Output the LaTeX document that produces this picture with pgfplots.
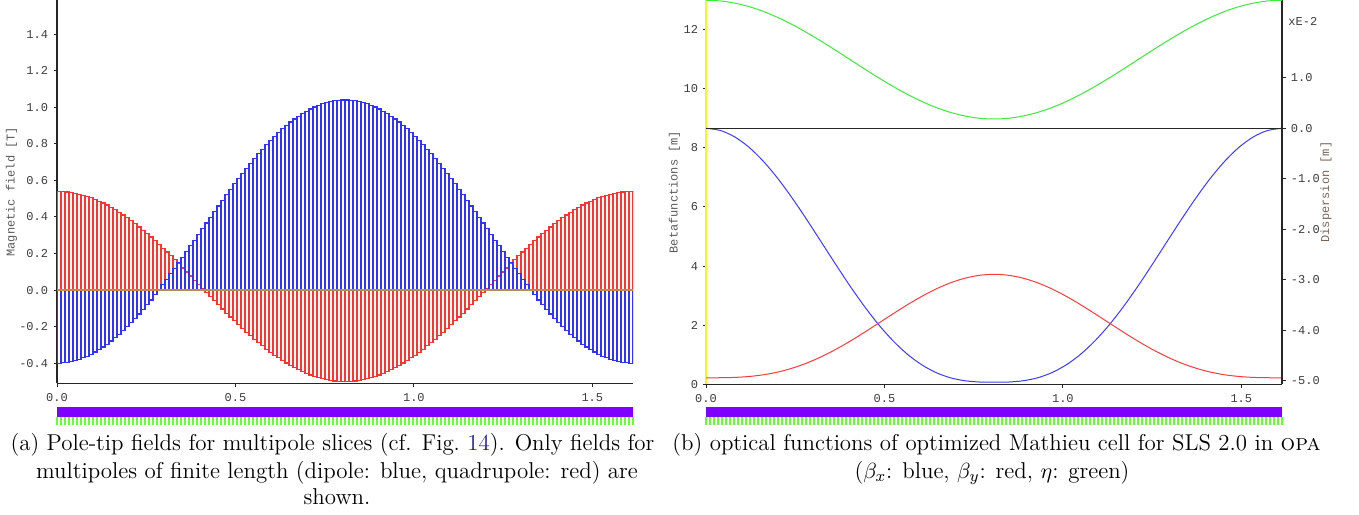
\documentclass[border=0pt]{standalone}
\usepackage{pgfplots}
\pgfplotsset{compat=1.18}
\usepackage{pgfplotstable}
\usepackage{fontspec}
\setmonofont{Liberation Mono}

\definecolor{barblue}{RGB}{50,50,255}
\definecolor{barred}{RGB}{255,50,50}
\definecolor{zeroline}{RGB}{185,140,80}
\definecolor{latpurple}{RGB}{127,0,255}
\definecolor{latgreen}{RGB}{100,255,50}
\definecolor{axisyellow}{RGB}{245,245,40}
\definecolor{labelgray}{RGB}{90,90,90}
\definecolor{ticktext}{RGB}{60,60,60}
\definecolor{disp}{RGB}{120,100,90}
\definecolor{linkblue}{RGB}{30,30,150}
\definecolor{curveblue}{RGB}{60,60,255}
\definecolor{curvered}{RGB}{255,60,60}
\definecolor{curvegreen}{RGB}{60,235,60}

% slice boundaries x, dipole field b, quadrupole field r
\pgfplotstableread{
x b r
0 -0.400 0.540
0.01121 -0.398 0.539
0.02242 -0.396 0.537
0.03363 -0.392 0.534
0.04483 -0.386 0.530
0.05604 -0.379 0.525
0.06725 -0.371 0.519
0.07846 -0.362 0.512
0.08967 -0.351 0.505
0.10088 -0.339 0.496
0.11208 -0.326 0.486
0.12329 -0.311 0.476
0.13450 -0.296 0.465
0.14571 -0.279 0.452
0.15692 -0.261 0.439
0.16813 -0.242 0.426
0.17933 -0.221 0.411
0.19054 -0.200 0.396
0.20175 -0.178 0.380
0.21296 -0.155 0.363
0.22417 -0.131 0.345
0.23538 -0.106 0.327
0.24658 -0.080 0.309
0.25779 -0.054 0.290
0.26900 -0.026 0.270
0.28021 0.002 0.250
0.29142 0.030 0.229
0.30263 0.059 0.208
0.31383 0.089 0.187
0.32504 0.119 0.166
0.33625 0.149 0.144
0.34746 0.180 0.121
0.35867 0.210 0.099
0.36988 0.242 0.077
0.38108 0.273 0.054
0.39229 0.304 0.031
0.40350 0.336 0.009
0.41471 0.367 -0.014
0.42592 0.398 -0.037
0.43713 0.430 -0.059
0.44833 0.460 -0.081
0.45954 0.491 -0.104
0.47075 0.521 -0.126
0.48196 0.551 -0.147
0.49317 0.581 -0.168
0.50438 0.610 -0.189
0.51558 0.638 -0.210
0.52679 0.666 -0.230
0.53800 0.694 -0.250
0.54921 0.720 -0.269
0.56042 0.746 -0.287
0.57163 0.771 -0.305
0.58283 0.795 -0.323
0.59404 0.818 -0.340
0.60525 0.840 -0.356
0.61646 0.861 -0.371
0.62767 0.882 -0.386
0.63888 0.901 -0.399
0.65008 0.919 -0.412
0.66129 0.936 -0.425
0.67250 0.951 -0.436
0.68371 0.966 -0.446
0.69492 0.979 -0.456
0.70613 0.991 -0.465
0.71733 1.002 -0.472
0.72854 1.011 -0.479
0.73975 1.019 -0.485
0.75096 1.026 -0.490
0.76217 1.032 -0.494
0.77338 1.036 -0.497
0.78458 1.038 -0.499
0.79579 1.040 -0.500
0.80700 1.040 -0.500
0.81821 1.038 -0.499
0.82942 1.036 -0.497
0.84063 1.032 -0.494
0.85183 1.026 -0.490
0.86304 1.019 -0.485
0.87425 1.011 -0.479
0.88546 1.002 -0.472
0.89667 0.991 -0.465
0.90788 0.979 -0.456
0.91908 0.966 -0.446
0.93029 0.951 -0.436
0.94150 0.936 -0.425
0.95271 0.919 -0.412
0.96392 0.901 -0.399
0.97513 0.882 -0.386
0.98633 0.861 -0.371
0.99754 0.840 -0.356
1.00875 0.818 -0.340
1.01996 0.795 -0.323
1.03117 0.771 -0.305
1.04238 0.746 -0.287
1.05358 0.720 -0.269
1.06479 0.694 -0.250
1.07600 0.666 -0.230
1.08721 0.638 -0.210
1.09842 0.610 -0.189
1.10963 0.581 -0.168
1.12083 0.551 -0.147
1.13204 0.521 -0.126
1.14325 0.491 -0.104
1.15446 0.460 -0.081
1.16567 0.430 -0.059
1.17688 0.398 -0.037
1.18808 0.367 -0.014
1.19929 0.336 0.009
1.21050 0.304 0.031
1.22171 0.273 0.054
1.23292 0.242 0.077
1.24413 0.210 0.099
1.25533 0.180 0.121
1.26654 0.149 0.144
1.27775 0.119 0.166
1.28896 0.089 0.187
1.30017 0.059 0.208
1.31138 0.030 0.229
1.32258 0.002 0.250
1.33379 -0.026 0.270
1.34500 -0.054 0.290
1.35621 -0.080 0.309
1.36742 -0.106 0.327
1.37863 -0.131 0.345
1.38983 -0.155 0.363
1.40104 -0.178 0.380
1.41225 -0.200 0.396
1.42346 -0.221 0.411
1.43467 -0.242 0.426
1.44588 -0.261 0.439
1.45708 -0.279 0.452
1.46829 -0.296 0.465
1.47950 -0.311 0.476
1.49071 -0.326 0.486
1.50192 -0.339 0.496
1.51313 -0.351 0.505
1.52433 -0.362 0.512
1.53554 -0.371 0.519
1.54675 -0.379 0.525
1.55796 -0.386 0.530
1.56917 -0.392 0.534
1.58038 -0.396 0.537
1.59158 -0.398 0.539
1.60279 -0.400 0.540
1.61400 -0.400 0.540
}\slices

% optics: s, beta_x, beta_y, eta (x 1e-2 m)
\pgfplotstableread{
s bx by eta
0.0000 8.660 0.220 2.530
0.0404 8.586 0.222 2.516
0.0807 8.367 0.233 2.472
0.1211 8.012 0.265 2.402
0.1614 7.534 0.323 2.306
0.2018 6.952 0.416 2.186
0.2421 6.288 0.548 2.046
0.2825 5.567 0.719 1.888
0.3228 4.816 0.931 1.718
0.3632 4.060 1.179 1.539
0.4035 3.325 1.457 1.355
0.4439 2.635 1.759 1.171
0.4842 2.010 2.073 0.992
0.5246 1.465 2.389 0.822
0.5649 1.011 2.696 0.664
0.6053 0.653 2.980 0.524
0.6456 0.391 3.231 0.404
0.6860 0.216 3.438 0.308
0.7263 0.118 3.592 0.238
0.7667 0.077 3.688 0.194
0.8070 0.070 3.720 0.180
0.8473 0.077 3.688 0.194
0.8877 0.118 3.592 0.238
0.9280 0.216 3.438 0.308
0.9684 0.391 3.231 0.404
1.0087 0.653 2.980 0.524
1.0491 1.011 2.696 0.664
1.0894 1.465 2.389 0.822
1.1298 2.010 2.073 0.992
1.1701 2.635 1.759 1.171
1.2105 3.325 1.457 1.355
1.2508 4.060 1.179 1.539
1.2912 4.816 0.931 1.718
1.3315 5.567 0.719 1.888
1.3719 6.288 0.548 2.046
1.4122 6.952 0.416 2.186
1.4526 7.534 0.323 2.306
1.4929 8.012 0.265 2.402
1.5333 8.367 0.233 2.472
1.5736 8.586 0.222 2.516
1.6140 8.660 0.220 2.530
}\optics

\pgfplotsset{
  myaxis/.style={
    scale only axis, width=288pt,
    tick align=outside, major tick length=1.75pt,
    tick style={draw=black!85, line width=0.5pt},
    axis line style={draw=black!85, line width=0.6pt},
    tick label style={font=\ttfamily\fontsize{6}{7}\selectfont, text=ticktext, inner sep=0pt},
    label style={font=\ttfamily\fontsize{6}{7}\selectfont, text=labelgray},
    xmin=0, xmax=1.614,
    xtick={0,0.5,1,1.5}, xticklabels={0.0,0.5,1.0,1.5},
    xticklabel style={anchor=north, yshift=-3.25pt},
    axis x line*=bottom, axis y line*=left,
  },
  lattice/.style={
    scale only axis, width=288pt, height=5pt,
    xmin=0, xmax=1.614, ymin=0, ymax=1,
    hide y axis, axis x line*=bottom,
    x axis line style={draw=none},
    xtick={0,0.0112083,...,1.615}, xticklabels={},
    xticklabel style={opacity=0, text opacity=0},
    tick align=outside, major tick length=4.15pt,
    xtick style={draw=latgreen, line width=0.6pt},
  },
}

\begin{document}
\begin{tikzpicture}
\useasboundingbox (0,0) rectangle (679.5pt,257pt);

% ---------------- left panel ----------------
\begin{axis}[myaxis, height=191.65pt, at={(28.5pt,65.35pt)}, anchor=south west,
  ymin=-0.51, ymax=1.587,
  ytick={-0.4,-0.2,0,0.2,0.4,0.6,0.8,1.0,1.2,1.4},
  yticklabels={-0.4,-0.2,0.0,0.2,0.4,0.6,0.8,1.0,1.2,1.4},
  yticklabel style={anchor=east, xshift=-2.5pt},
  ylabel={Magnetic field [T]},
  ylabel style={at={(axis description cs:-0.0790,0.5)}, anchor=center},
]
\addplot[ybar interval, draw=barred, fill=none, line width=0.6pt] table[x=x, y=r] {\slices};
\addplot[ybar interval, draw=barblue, fill=none, line width=0.6pt] table[x=x, y=b] {\slices};
\addplot[zeroline, line width=0.6pt] coordinates {(0,0) (1.614,0)};
\end{axis}

\begin{axis}[lattice, at={(28.5pt,48.65pt)}, anchor=south west]
\addplot[fill=latpurple, draw=none] coordinates {(0,0) (0,1) (1.614,1) (1.614,0)};
\end{axis}

% ---------------- right panel ----------------
\begin{axis}[myaxis, height=192.15pt, at={(353pt,64.85pt)}, anchor=south west,
  ymin=0, ymax=13.0,
  ytick={0,2,4,6,8,10,12}, yticklabels={0,2,4,6,8,10,12},
  y axis line style={draw=axisyellow},
  yticklabel style={anchor=east, xshift=-2pt},
  ylabel={Betafunctions [m]},
  ylabel style={at={(axis description cs:-0.0545,0.5)}, anchor=center},
]
\addplot[curveblue, line width=0.5pt, smooth] table[x=s, y=bx] {\optics};
\addplot[curvered, line width=0.5pt, smooth] table[x=s, y=by] {\optics};
\end{axis}

\begin{axis}[myaxis, height=192.15pt, at={(353pt,64.85pt)}, anchor=south west,
  clip=false,
  ymin=-5.07, ymax=2.535,
  axis x line=none, axis y line*=right,
  ytick={-5,-4,-3,-2,-1,0,1},
  yticklabels={-5.0,-4.0,-3.0,-2.0,-1.0,0.0,1.0},
  yticklabel style={anchor=west, xshift=2.5pt},
  ylabel={Dispersion [m]},
  ylabel style={at={(axis description cs:1.0765,0.5)}, anchor=center, text=disp},
]
\addplot[black!85, line width=0.5pt] coordinates {(0,0) (1.614,0)};
\addplot[curvegreen, line width=0.5pt, smooth] table[x=s, y=eta] {\optics};
\node[anchor=west, inner sep=0pt, xshift=3pt, font=\ttfamily\fontsize{6}{7}\selectfont, text=ticktext] at (rel axis cs:1,0.943) {xE-2};
\end{axis}

\begin{axis}[lattice, at={(353pt,48.65pt)}, anchor=south west]
\addplot[fill=latpurple, draw=none] coordinates {(0,0) (0,1) (1.614,1) (1.614,0)};
\end{axis}

% ---------------- captions ----------------
\begin{scope}[every node/.style={anchor=base, inner sep=0pt, font=\fontsize{11.45}{13}\selectfont}]
\node at (166.25pt,31.5pt) {(a) Pole-tip fields for multipole slices (cf. Fig.~\textcolor{linkblue}{14}). Only fields for};
\node at (168.5pt,18pt) {multipoles of finite length (dipole: blue, quadrupole: red) are};
\node at (168.5pt,5pt) {shown.};
\node at (498.25pt,31.5pt) {(b) optical functions of optimized Mathieu cell for SLS 2.0 in \textsc{opa}};
\node at (496pt,18pt) {($\beta_x$: blue, $\beta_y$: red, $\eta$: green)};
\end{scope}
\end{tikzpicture}
\end{document}
